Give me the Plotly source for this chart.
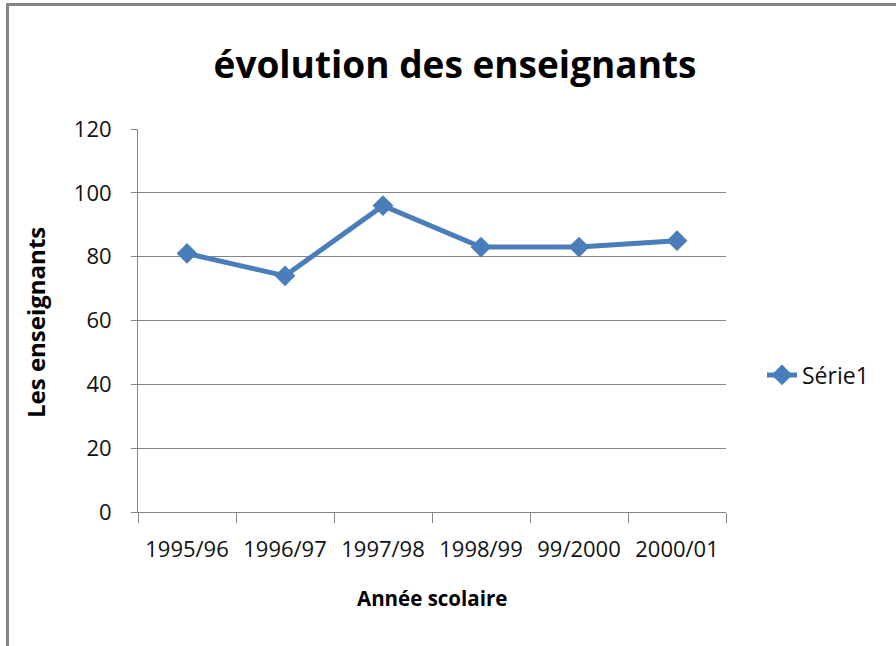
import plotly.graph_objects as go

categories = ["1995/96", "1996/97", "1997/98", "1998/99", "99/2000", "2000/01"]
values = [81, 74, 96, 83, 83, 85]
series_name = "Série1"
y_ticks = [0, 20, 40, 60, 80, 100, 120]

W, H = 896, 646
L, R, T, B = 138, 726, 129, 512

def px_x(p):
    return (p - L) / (R - L)

def px_y(p):
    return (B - p) / (B - T)

FONT = "Open Sans, Lato, Liberation Sans, sans-serif"
GRID = "#868686"

fig = go.Figure()
fig.add_trace(go.Scatter(
    x=categories, y=values, name=series_name, mode="lines+markers",
    line=dict(color="#4A7EBB", width=5),
    marker=dict(symbol="diamond", size=16, color="#4A7EBB"),
))

fig.update_layout(
    width=W, height=H,
    margin=dict(l=L, r=W - R, t=T, b=H - B, autoexpand=False),
    paper_bgcolor="white", plot_bgcolor="white",
    font=dict(family=FONT, color="#111111"),
    title=dict(text="<b>évolution des enseignants</b>", x=455 / W, xref="container", xanchor="center",
               y=1 - 65 / H, yref="container", yanchor="middle",
               font=dict(size=37, family=FONT, color="#000000")),
    showlegend=True,
    legend=dict(x=px_x(762), y=px_y(375), xanchor="left", yanchor="middle",
                font=dict(size=23, family=FONT, color="#111111"), bgcolor="rgba(0,0,0,0)"),
    xaxis=dict(showgrid=False, showline=True, linecolor=GRID, linewidth=1,
               ticks="outside", ticklen=10, tickcolor=GRID, tickson="boundaries",
               tickfont=dict(size=22, family=FONT, color="#111111"), ticklabelstandoff=18,
               range=[-0.5, 5.5]),
    yaxis=dict(range=[0, 120], tickvals=y_ticks, showgrid=True, gridcolor=GRID, gridwidth=1,
               showline=True, linecolor=GRID, linewidth=1, zeroline=False,
               ticks="outside", ticklen=6, tickcolor=GRID,
               tickfont=dict(size=22, family=FONT, color="#111111"), ticklabelstandoff=15),
    annotations=[
        dict(text="<b>Les enseignants</b>", x=px_x(35), y=px_y(323), xref="paper", yref="paper",
             textangle=-90, showarrow=False, xanchor="center", yanchor="middle",
             font=dict(size=24, family=FONT, color="#000000")),
        dict(text="<b>Année scolaire</b>", x=px_x(432), y=px_y(598), xref="paper", yref="paper",
             showarrow=False, xanchor="center", yanchor="middle",
             font=dict(size=20.5, family=FONT, color="#000000")),
    ],
    shapes=[
        dict(type="line", xref="paper", yref="paper", x0=px_x(6), x1=px_x(900), y0=px_y(4.5), y1=px_y(4.5),
             line=dict(color="#858585", width=3)),
        dict(type="line", xref="paper", yref="paper", x0=px_x(7.5), x1=px_x(7.5), y0=px_y(3), y1=px_y(650),
             line=dict(color="#858585", width=3)),
    ],
)

fig.write_html("out.html", config={"displayModeBar": False},
               post_script="document.body.style.margin='0';document.body.style.overflow='hidden';")
